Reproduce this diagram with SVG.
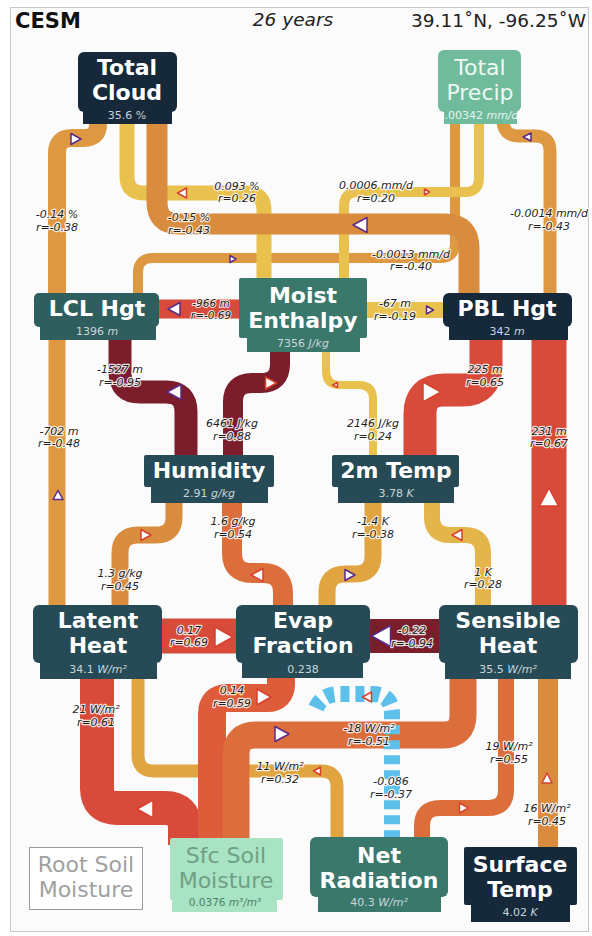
<svg xmlns="http://www.w3.org/2000/svg" width="592" height="936" viewBox="0 0 592 936">
  <defs>
    <style>
      .c { fill: none; stroke-linecap: butt; stroke-linejoin: round; }
      .yl { stroke: #e8c14e; }
      .yo { stroke: #e0a441; }
      .yk { stroke: #e4b54a; }
      .or { stroke: #de9842; }
      .o2 { stroke: #d98c3e; }
      .orr { stroke: #dc6e3c; }
      .ro { stroke: #dd5c3a; }
      .rd { stroke: #d84a3a; }
      .dr { stroke: #7b1d2b; }
      .bl { stroke: #5cc0ea; stroke-dasharray: 9 6; }
      .an { fill: #ffffff; stroke: #5b2a86; stroke-width: 1.5; stroke-linejoin: round; }
      .ap { fill: #ffffff; stroke: #d8402e; stroke-width: 1.5; stroke-linejoin: round; }
      .lbl { font-family: "DejaVu Sans", sans-serif; font-style: italic; font-size: 11px; fill: #1e1e1e; stroke: #ffffff; stroke-opacity: 0.85; stroke-width: 2.4; paint-order: stroke; stroke-linejoin: round; text-anchor: middle; }
      .sm { font-size: 10.5px; stroke-width: 2; }
      .nm { font-family: "DejaVu Sans", sans-serif; font-weight: bold; font-size: 22px; fill: #ffffff; text-anchor: middle; }
      .nl { font-family: "DejaVu Sans", sans-serif; font-size: 22px; text-anchor: middle; }
      .nv { font-family: "DejaVu Sans", sans-serif; font-size: 11px; fill: #c9d5d9; text-anchor: middle; }
      .u { font-style: italic; }
      .navy { fill: #15293a; }
      .slate { fill: #264b56; }
      .teal { fill: #2f5e5e; }
      .green { fill: #3b786c; }
      .precip-txt { fill: #eef8f3; }
      .precip-val { fill: #e6f4ee; }
      .root-txt { fill: #a0a0a0; }
      .sfc-txt { fill: #6f9f86; }
      .sfc-val { fill: #4f806a; font-size: 10.5px; }
    </style>
    <clipPath id="precipTab">
      <rect x="444" y="106" width="73" height="18"/>
    </clipPath>
  </defs>

  <!-- frame and header -->
  <rect x="0" y="0" width="592" height="936" fill="#ffffff"/>
  <rect x="10.5" y="7.5" width="578" height="924" fill="#fbfbfb" stroke="#c6c6c6" stroke-width="1"/>
  <text x="15" y="28" font-family="DejaVu Sans, sans-serif" font-weight="bold" font-size="21" fill="#111">CESM</text>
  <text x="293" y="26" font-family="DejaVu Sans, sans-serif" font-style="italic" font-size="18.5" fill="#222" text-anchor="middle">26 years</text>
  <text x="586" y="27" font-family="DejaVu Sans, sans-serif" font-size="18.5" fill="#222" text-anchor="end">39.11˚N, -96.25˚W</text>

  <!-- connectors -->
  <g id="connectors">
    <!-- upper block -->
    <path class="c or" stroke-width="10" d="M455 120 L455 243 Q455 258 440 258 L153 258 Q138 258 138 273 L138 298"/>
    <path class="c yl" stroke-width="15" d="M127 120 L127 176 Q127 193 144 193 L247 193 Q264 193 264 210 L264 285"/>
    <path class="c yl" stroke-width="10" d="M479 120 L479 178 Q479 192 465 192 L358 192 Q344 192 344 206 L344 285"/>
    <path class="c o2" stroke-width="21" d="M157 120 L157 202 Q157 224 179 224 L445 224 Q469 224 469 248 L469 298"/>
    <path class="c or" stroke-width="18" d="M98 120 L98 124 Q98 138 84 138 L72 138 Q57 138 57 153 L57 300"/>
    <path class="c or" stroke-width="13" d="M503 120 Q503 136 519 136 L535 136 Q550 136 550 151 L550 298"/>

    <path class="c rd" stroke-width="19" d="M155 309 L245 309"/>
    <path class="c yl" stroke-width="16" d="M362 310 L448 310"/>

    <path class="c dr" stroke-width="23" d="M120 335 L120 372 Q120 392 140 392 L166 392 Q186 392 186 412 L186 460"/>
    <path class="c dr" stroke-width="20" d="M280 345 L280 364 Q280 383 261 383 L252 383 Q233 383 233 402 L233 460"/>
    <path class="c yl" stroke-width="8" d="M326 345 L326 371 Q326 385 340 385 L359 385 Q373 385 373 399 L373 460"/>
    <path class="c rd" stroke-width="33" d="M486 335 L486 366 Q486 390 462 390 L444 390 Q420 390 420 414 L420 460"/>
    <path class="c rd" stroke-width="35" d="M549 335 L549 610"/>
    <path class="c or" stroke-width="17" d="M57 335 L57 610"/>

    <!-- middle block -->
    <path class="c o2" stroke-width="17" d="M174 500 L174 517 Q174 535 156 535 L138 535 Q120 535 120 553 L120 610"/>
    <path class="c orr" stroke-width="20" d="M232 500 L232 553 Q232 573 252 573 L263 573 Q283 573 283 593 L283 610"/>
    <path class="c yo" stroke-width="17" d="M373 500 L373 556 Q373 574 355 574 L345 574 Q327 574 327 592 L327 610"/>
    <path class="c yk" stroke-width="16" d="M432 500 L432 517 Q432 535 450 535 L465 535 Q483 535 483 553 L483 610"/>
    <path class="c rd" stroke-width="35" d="M158 636 L240 636"/>
    <path class="c dr" stroke-width="34" d="M366 636 L444 636"/>

    <!-- lower block -->
    <path class="c yo" stroke-width="13" d="M138 675 L138 755 Q138 771 154 771 L321 771 Q337 771 337 787 L337 842"/>
    <path class="c rd" stroke-width="34" d="M97 675 L97 788 Q97 808 117 808 L165 808 Q185 808 185 828 L185 845"/>
    <path class="c ro" stroke-width="28" d="M281 670 L281 684 Q281 698 267 698 L228 698 Q212 698 212 714 L212 845"/>
    <path class="c orr" stroke-width="27" d="M463 675 L463 715 Q463 735 443 735 L256 735 Q236 735 236 755 L236 845"/>
    <path class="c orr" stroke-width="16" d="M506 675 L506 790 Q506 808 488 808 L440 808 Q422 808 422 826 L422 842"/>
    <path class="c o2" stroke-width="20" d="M548 675 L548 852"/>
    <path class="c bl" stroke-width="16" d="M316 708 Q322 694 340 694 L372 694 Q392 694 392 714 L392 842"/>

    <!-- direction markers -->
    <polygon class="an" points="71,133.5 81,139 71,144.5"/>
    <polygon class="ap" points="186.5,188 177.5,193 186.5,198"/>
    <polygon class="an" points="367,217.5 353,225 367,232.5"/>
    <polygon class="ap" points="424.5,189 429.5,192 424.5,195"/>
    <polygon class="an" points="230,255.5 236,259 230,262.5"/>
    <polygon class="an" points="531,133 523,137 531,141"/>
    <polygon class="an" points="180,302.5 168,309 180,315.5"/>
    <polygon class="an" points="426.5,306 433.5,310 426.5,314"/>
    <polygon class="an" points="181,384.5 167,392 181,399.5"/>
    <polygon class="ap" points="265.5,377 276.5,383 265.5,389"/>
    <polygon class="ap" points="337.5,382.5 332.5,385 337.5,387.5"/>
    <polygon class="ap" points="423,382 441,392 423,402"/>
    <polygon class="ap" points="539.5,506 549,488 558.5,506"/>
    <polygon class="an" points="53,499.5 58,490.5 63,499.5"/>
    <polygon class="ap" points="141,529.5 151,535 141,540.5"/>
    <polygon class="ap" points="263,568.5 251,575 263,581.5"/>
    <polygon class="an" points="345,569.5 355,575 345,580.5"/>
    <polygon class="ap" points="462,529.5 452,535 462,540.5"/>
    <polygon class="ap" points="215,627 233,637 215,647"/>
    <polygon class="an" points="390.5,625.5 371.5,636 390.5,646.5"/>
    <polygon class="ap" points="257,689 271,697 257,705"/>
    <polygon class="ap" points="153,800 137,809 153,818"/>
    <polygon class="an" points="275,726.5 289,734 275,741.5"/>
    <polygon class="ap" points="320.5,767 313.5,771 320.5,775"/>
    <polygon class="ap" points="371.5,692 362.5,697 371.5,702"/>
    <polygon class="ap" points="459.5,803 468.5,808 459.5,813"/>
    <polygon class="ap" points="542,783 547,773 552,783"/>

    <!-- effect labels -->
    <text class="lbl" x="57" y="218">-0.14 %</text><text class="lbl" x="57" y="231">r=-0.38</text>
    <text class="lbl" x="237" y="190">0.093 %</text><text class="lbl" x="237" y="202">r=0.26</text>
    <text class="lbl" x="189" y="221">-0.15 %</text><text class="lbl" x="189" y="234">r=-0.43</text>
    <text class="lbl" x="376" y="189">0.0006 mm/d</text><text class="lbl" x="376" y="202">r=0.20</text>
    <text class="lbl" x="549" y="217">-0.0014 mm/d</text><text class="lbl" x="549" y="230">r=-0.43</text>
    <text class="lbl" x="411" y="258">-0.0013 mm/d</text><text class="lbl" x="411" y="270">r=-0.40</text>
    <text class="lbl sm" x="211" y="306.5">-966 m</text><text class="lbl sm" x="211" y="319">r=-0.69</text>
    <text class="lbl" x="395" y="307">-67 m</text><text class="lbl" x="395" y="320">r=-0.19</text>
    <text class="lbl" x="120" y="373">-1527 m</text><text class="lbl" x="120" y="386">r=-0.95</text>
    <text class="lbl" x="232" y="427">6461 J/kg</text><text class="lbl" x="232" y="440">r=0.88</text>
    <text class="lbl" x="373" y="427">2146 J/kg</text><text class="lbl" x="373" y="440">r=0.24</text>
    <text class="lbl" x="485" y="373">225 m</text><text class="lbl" x="485" y="386">r=0.65</text>
    <text class="lbl" x="549" y="435">231 m</text><text class="lbl" x="549" y="447">r=0.67</text>
    <text class="lbl" x="59" y="435">-702 m</text><text class="lbl" x="59" y="447">r=-0.48</text>
    <text class="lbl" x="120" y="577">1.3 g/kg</text><text class="lbl" x="120" y="590">r=0.45</text>
    <text class="lbl" x="233" y="525">1.6 g/kg</text><text class="lbl" x="233" y="538">r=0.54</text>
    <text class="lbl" x="373" y="525">-1.4 K</text><text class="lbl" x="373" y="538">r=-0.38</text>
    <text class="lbl" x="483" y="576">1 K</text><text class="lbl" x="483" y="588">r=0.28</text>
    <text class="lbl" x="189" y="634">0.17</text><text class="lbl" x="189" y="646">r=0.69</text>
    <text class="lbl" x="412" y="634">-0.22</text><text class="lbl" x="412" y="647">r=-0.94</text>
    <text class="lbl" x="232" y="694">0.14</text><text class="lbl" x="232" y="707">r=0.59</text>
    <text class="lbl" x="96" y="713">21 W/m²</text><text class="lbl" x="96" y="726">r=0.61</text>
    <text class="lbl" x="369" y="732">-18 W/m²</text><text class="lbl" x="369" y="745">r=-0.51</text>
    <text class="lbl" x="280" y="770">11 W/m²</text><text class="lbl" x="280" y="783">r=0.32</text>
    <text class="lbl" x="391" y="785">-0.086</text><text class="lbl" x="391" y="798">r=-0.37</text>
    <text class="lbl" x="509" y="750">19 W/m²</text><text class="lbl" x="509" y="763">r=0.55</text>
    <text class="lbl" x="547" y="812">16 W/m²</text><text class="lbl" x="547" y="825">r=0.45</text>
  </g>

  <!-- nodes -->
  <g id="total-cloud" class="navy">
    <rect x="78" y="52" width="99" height="60" rx="6"/>
    <rect x="83" y="106" width="89" height="18"/>
    <text class="nm" x="127" y="75">Total</text>
    <text class="nm" x="127" y="100">Cloud</text>
    <text class="nv" x="127" y="119">35.6 %</text>
  </g>

  <g id="total-precip" fill="#70bb9c">
    <rect x="438" y="50" width="83" height="62" rx="6"/>
    <rect x="444" y="106" width="73" height="18"/>
    <text class="nl precip-txt" x="480" y="75" font-size="21.5">Total</text>
    <text class="nl precip-txt" x="480" y="100" font-size="21.5">Precip</text>
    <g clip-path="url(#precipTab)">
      <text class="nv precip-val" x="478" y="119">0.00342 <tspan class="u">mm/d</tspan></text>
    </g>
  </g>

  <g id="lcl-hgt" class="teal">
    <rect x="34" y="293" width="125" height="34" rx="5"/>
    <rect x="40" y="322" width="116" height="18"/>
    <text class="nm" x="97" y="316">LCL Hgt</text>
    <text class="nv" x="97" y="335">1396 <tspan class="u">m</tspan></text>
  </g>

  <g id="moist-enthalpy" class="green">
    <rect x="239" y="278" width="128" height="60" rx="2"/>
    <rect x="247" y="334" width="113" height="18"/>
    <text class="nm" x="303" y="303">Moist</text>
    <text class="nm" x="303" y="328">Enthalpy</text>
    <text class="nv" x="303" y="347">7356 <tspan class="u">J/kg</tspan></text>
  </g>

  <g id="pbl-hgt" class="navy">
    <rect x="443" y="293" width="129" height="34" rx="6"/>
    <rect x="449" y="322" width="119" height="18"/>
    <text class="nm" x="507" y="316">PBL Hgt</text>
    <text class="nv" x="507" y="335">342 <tspan class="u">m</tspan></text>
  </g>

  <g id="humidity" class="slate">
    <rect x="144" y="455" width="130" height="32" rx="2"/>
    <rect x="151" y="484" width="117" height="19"/>
    <text class="nm" x="209" y="478">Humidity</text>
    <text class="nv" x="209" y="497">2.91 <tspan class="u">g/kg</tspan></text>
  </g>

  <g id="temp-2m" class="slate">
    <rect x="332" y="455" width="127" height="32" rx="2"/>
    <rect x="338" y="484" width="116" height="19"/>
    <text class="nm" x="396" y="478">2m Temp</text>
    <text class="nv" x="396" y="497">3.78 <tspan class="u">K</tspan></text>
  </g>

  <g id="latent-heat" class="slate">
    <rect x="33" y="605" width="129" height="58" rx="6"/>
    <rect x="40" y="659" width="117" height="20"/>
    <text class="nm" x="98" y="628">Latent</text>
    <text class="nm" x="98" y="653">Heat</text>
    <text class="nv" x="98" y="673">34.1 <tspan class="u">W/m²</tspan></text>
  </g>

  <g id="evap-fraction" class="slate">
    <rect x="236" y="605" width="134" height="58" rx="6"/>
    <rect x="242" y="659" width="121" height="19"/>
    <text class="nm" x="303" y="628">Evap</text>
    <text class="nm" x="303" y="653">Fraction</text>
    <text class="nv" x="303" y="673">0.238</text>
  </g>

  <g id="sensible-heat" class="slate">
    <rect x="439" y="605" width="139" height="58" rx="6"/>
    <rect x="445" y="659" width="126" height="20"/>
    <text class="nm" x="508" y="628">Sensible</text>
    <text class="nm" x="508" y="653">Heat</text>
    <text class="nv" x="508" y="673">35.5 <tspan class="u">W/m²</tspan></text>
  </g>

  <g id="root-soil-moisture">
    <rect x="29.5" y="847.5" width="113" height="62" fill="#ffffff" stroke="#9a9a9a" stroke-width="1"/>
    <text class="nl root-txt" x="86" y="872">Root Soil</text>
    <text class="nl root-txt" x="86" y="897">Moisture</text>
  </g>

  <g id="sfc-soil-moisture" fill="#a8e3c4">
    <rect x="170" y="838" width="113" height="62" rx="2"/>
    <rect x="172" y="896" width="105" height="16"/>
    <text class="nl sfc-txt" x="226" y="863">Sfc Soil</text>
    <text class="nl sfc-txt" x="226" y="888">Moisture</text>
    <text class="nv sfc-val" x="225" y="906">0.0376 <tspan class="u">m³/m³</tspan></text>
  </g>

  <g id="net-radiation" class="green">
    <rect x="310" y="837" width="138" height="60" rx="6"/>
    <rect x="318" y="893" width="123" height="19"/>
    <text class="nm" x="379" y="863">Net</text>
    <text class="nm" x="379" y="888">Radiation</text>
    <text class="nv" x="379" y="906">40.3 <tspan class="u">W/m²</tspan></text>
  </g>

  <g id="surface-temp" class="navy">
    <rect x="464" y="847" width="113" height="58" rx="2"/>
    <rect x="471" y="901" width="99" height="21"/>
    <text class="nm" x="520" y="872">Surface</text>
    <text class="nm" x="520" y="897">Temp</text>
    <text class="nv" x="520" y="916">4.02 <tspan class="u">K</tspan></text>
  </g>
</svg>
